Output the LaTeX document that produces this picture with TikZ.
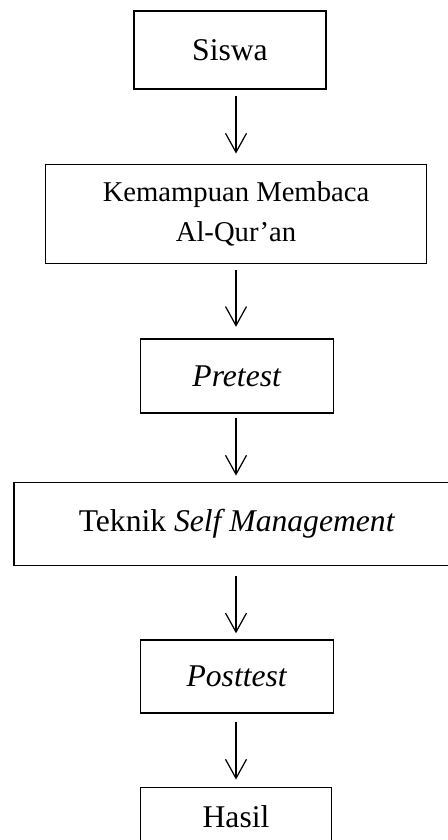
\documentclass[tikz,border=0pt]{standalone}
\usepackage{fontspec}
\setmainfont{Liberation Serif}
\usetikzlibrary{arrows.meta}

\begin{document}
\begin{tikzpicture}[
        kotak/.style={draw, line width=0.8pt, align=center, inner sep=0pt,
            font=\fontsize{18}{22.8}\selectfont},
        panah/.style={-{Straight Barb[length=0.38cm,width=0.42cm]}, line width=0.7pt}
    ]
        \clip (0,0) rectangle (8.96,-16.8);

        \node[kotak, minimum width=3.84cm, minimum height=1.56cm] at (4.60,-1.00) (siswa) {Siswa};
        \node[kotak, minimum width=7.61cm, minimum height=1.97cm, font=\fontsize{16.3}{22.8}\selectfont] at (4.72,-4.28) (kemampuan) {Kemampuan Membaca\\Al-Qur’an};
        \node[kotak, minimum width=3.85cm, minimum height=1.48cm] at (4.74,-7.52) (pretest) {\textit{Pretest}};
        \node[kotak, minimum width=8.92cm, minimum height=1.65cm] at (4.74,-10.48) (teknik) {Teknik \textit{Self Management}};
        \node[kotak, minimum width=3.85cm, minimum height=1.46cm] at (4.74,-13.53) (posttest) {\textit{Posttest}};
        \node[kotak, minimum width=3.83cm, minimum height=1.17cm] at (4.72,-16.34) (hasil) {Hasil};

        \draw[panah, shorten <=0.13cm, shorten >=0.21cm] (siswa.south -| kemampuan) -- (kemampuan.north);
        \draw[panah, shorten <=0.12cm, shorten >=0.23cm] (kemampuan.south) -- (pretest.north -| kemampuan);
        \draw[panah, shorten <=0.08cm, shorten >=0.13cm] (pretest.south -| kemampuan) -- (teknik.north -| kemampuan);
        \draw[panah, shorten <=0.20cm, shorten >=0.12cm] (teknik.south -| kemampuan) -- (posttest.north -| kemampuan);
        \draw[panah, shorten <=0.16cm, shorten >=0.15cm] (posttest.south -| kemampuan) -- (hasil.north -| kemampuan);

    \end{tikzpicture}
\end{document}
